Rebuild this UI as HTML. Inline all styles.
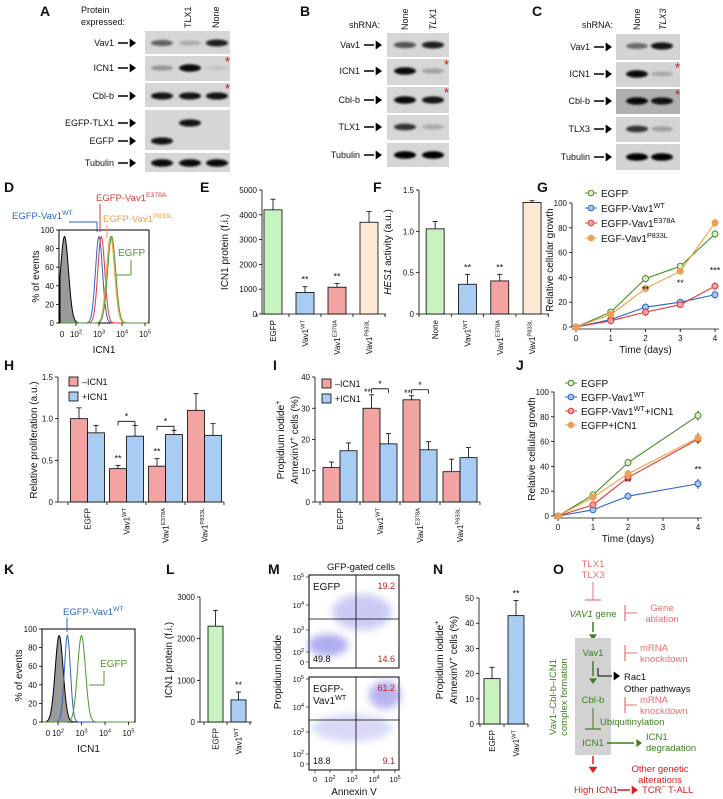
<!DOCTYPE html>
<html><head><meta charset="utf-8"><style>
html,body{margin:0;padding:0;background:#fff;}
svg{display:block;font-family:"Liberation Sans",Arial,sans-serif;}
</style></head><body>
<svg id="fig" width="723" height="799" viewBox="0 0 723 799" xmlns="http://www.w3.org/2000/svg">
<defs>
<filter id="blur1" x="-20%" y="-50%" width="140%" height="200%"><feGaussianBlur stdDeviation="1.1"/></filter>
<filter id="blur4" x="-50%" y="-50%" width="200%" height="200%"><feGaussianBlur stdDeviation="4"/></filter>
</defs>
</svg>
<script>
// ---------- DATA ----------
const eCats=['EGFP','Vav1^WT','Vav1^E378A','Vav1^P833L'];
const eVals=[4200,870,1080,3700];
const eErrs=[430,230,150,430];
const eStars=['','**','**',''];
const eTicks=[0,1000,2000,3000,4000,5000];
const fCats=['None','Vav1^WT','Vav1^E378A','Vav1^P833L'];
const fVals=[1.03,0.36,0.40,1.35];
const fErrs=[0.09,0.12,0.08,0.02];
const fStars=['','**','**',''];
const fTicks=[0,0.5,1.0,1.5];
const fTickLabels=['0','0.5','1.0','1.5'];
const gDays=[0,1,2,3,4];
const gEGFP=[0,12,39,49,75];
const gWT=[0,6,16,20,26];
const gE378A=[0,5,12,18,33];
const gP833L=[0,10,31,45,84];
const gErr=[1,2,3,2,3];
const gStarDays=[2,3,4];
const gStarVals=['**','**','***'];
const hCats=['EGFP','Vav1^WT','Vav1^E378A','Vav1^P833L'];
const hMinus=[1.0,0.40,0.43,1.10];
const hMinusErr=[0.13,0.04,0.09,0.20];
const hPlus=[0.83,0.79,0.81,0.80];
const hPlusErr=[0.09,0.13,0.05,0.14];
const iMinus=[11,30,32.7,9.7];
const iMinusErr=[1.8,4.3,1.3,4];
const iPlus=[16.4,18.6,16.7,14.2];
const iPlusErr=[2.5,3.3,2.6,3.2];
const iTicks=[0,10,20,30,40];
const jDays=[0,1,2,4];
const jEGFP=[0,17,43,81];
const jWT=[0,5,16,26];
const jWTICN1=[0,9,31,62];
const jEGFPICN1=[0,15,34,63];
const lVals=[2300,530];
const lErrs=[380,190];
const lTicks=[0,1000,2000,3000];
const nVals=[18,43];
const nErrs=[4.5,6];
const nTicks=[0,10,20,30,40,50];
const dPeaks=[1.5,3.0,3.1,3.5,3.55];
const kPeaks=[2.05,2.4,3.0];

// ---------- HELPERS ----------
const NS='http://www.w3.org/2000/svg';
const root=document.getElementById('fig');
function el(tag,attrs,name,parent){
  const e=document.createElementNS(NS,tag);
  for(const k in attrs) e.setAttribute(k,attrs[k]);
  
  
  (parent||root).appendChild(e);
  return e;
}
function txt(x,y,s,o,name){
  o=o||{};const fs=o.fs||9;
  const a={x:x,y:y,'font-size':fs,fill:o.fill||'#111','text-anchor':o.anchor||'start'};
  if(o.rot!=null) a.transform='rotate('+o.rot+' '+x+' '+y+')';
  if(o.bold) a['font-weight']='bold';
  if(o.italic) a['font-style']='italic';
  const e=el('text',a,name||'label');
  const parts=s.split('^');
  e.appendChild(document.createTextNode(parts[0]));
  if(parts[1]){
    const sp=parts[1].split('|');
    const ts=document.createElementNS(NS,'tspan');ts.setAttribute('font-size',fs*0.72);ts.setAttribute('dy',-fs*0.42);ts.textContent=sp[0];e.appendChild(ts);
    if(sp[1]){const t2=document.createElementNS(NS,'tspan');t2.setAttribute('dy',fs*0.42);t2.textContent=sp[1];e.appendChild(t2);}
  }
  return e;
}
function line(x1,y1,x2,y2,c,w,name){return el('line',{x1:x1,y1:y1,x2:x2,y2:y2,stroke:c||'#000','stroke-width':w||0.8},name||'line');}
function tri(x,y,dir,s,c,name){
  let p;
  if(dir==='r') p=[[x,y],[x-s*1.4,y-s],[x-s*1.4,y+s]];
  if(dir==='d') p=[[x,y],[x-s,y-s*1.4],[x+s,y-s*1.4]];
  return el('polygon',{points:p.map(q=>q.join(',')).join(' '),fill:c||'#000'},name||'arrowhead');
}
function letter(x,y,s){txt(x,y,s,{fs:14,bold:true},'panel-letter-'+s.toLowerCase());}

// ---------- BLOTS ----------
const blotA={lanes:[162,190,217],x0:145,x1:230,rows:[
 {label:'Vav1',y0:31,y1:54,by:43,bands:[0.55,0.2,0.85]},
 {label:'ICN1',y0:56,y1:81,by:68,bands:[0.3,0.95,0.08],star:true},
 {label:'Cbl-b',y0:83,y1:107,by:96,bands:[0.9,0.9,0.9],star:true},
 {label:'',y0:110,y1:150,by:123,bands:[0,0.9,0]},
 {label:'',y0:110,y1:150,by:141,bands:[0.9,0,0],noBox:true},
 {label:'Tubulin',y0:153,y1:172,by:163,bands:[0.95,0.95,0.95]}],bg:'#d6d6d6'};
const blotB={lanes:[405,433],x0:387,x1:449,rows:[
 {label:'Vav1',y0:33,y1:57,by:45,bands:[0.6,0.85]},
 {label:'ICN1',y0:59,y1:85,by:71,bands:[0.95,0.25],star:true},
 {label:'Cbl-b',y0:87,y1:113,by:100,bands:[0.95,0.9],star:true},
 {label:'TLX1',y0:115,y1:140,by:127,bands:[0.75,0.2]},
 {label:'Tubulin',y0:143,y1:167,by:155,bands:[1,1]}],bg:'#d6d6d6'};
const blotC={lanes:[637,662],x0:616,x1:680,rows:[
 {label:'Vav1',y0:34,y1:60,by:46,bands:[0.5,0.9]},
 {label:'ICN1',y0:62,y1:87,by:74,bands:[0.95,0.2],star:true},
 {label:'Cbl-b',y0:89,y1:114,by:101,bands:[0.95,0.9],star:true,bg:'#b0b0b0'},
 {label:'TLX3',y0:117,y1:142,by:129,bands:[0.75,0.25]},
 {label:'Tubulin',y0:144,y1:170,by:157,bands:[1,1]}],bg:'#d4d4d4'};
function drawBlot(b,key){
  b.rows.forEach((r,ri)=>{
    if(!r.noBox) el('rect',{x:b.x0,y:r.y0,width:b.x1-b.x0,height:r.y1-r.y0,fill:r.bg||b.bg},'blot-'+key+'-row');
    r.bands.forEach((v,i)=>{ if(v>0) el('ellipse',{cx:b.lanes[i],cy:r.by,rx:11,ry:2.2+v*1.6,fill:'#000',opacity:v,filter:'url(#blur1)'},'band');});
    if(r.star) txt(b.x1-5,r.y0+10,'*',{fs:13,fill:'#c01818'},'asterisk');
  });
}
drawBlot(blotA,'a');drawBlot(blotB,'b');drawBlot(blotC,'c');
function blotLabel(x,y,s){txt(x,y+3,s,{fs:9,anchor:'end'},'blot-label');line(x+4,y,x+14,y,'#000',1.5,'arrow-shaft');tri(x+22,y,'r',4.5,'#000','arrow');}
[['Vav1',43],['ICN1',68],['Cbl-b',96],['EGFP-TLX1',123],['EGFP',141],['Tubulin',163]].forEach(a=>blotLabel(114,a[1],a[0]));
[['Vav1',45],['ICN1',71],['Cbl-b',100],['TLX1',127],['Tubulin',155]].forEach(a=>blotLabel(360,a[1],a[0]));
[['Vav1',47],['ICN1',74],['Cbl-b',101],['TLX3',129],['Tubulin',157]].forEach(a=>blotLabel(590,a[1],a[0]));
letter(40,16,'A');letter(300,16,'B');letter(532,16,'C');
txt(81,13,'Protein',{fs:9},'header-label');txt(81,25,'expressed:',{fs:9},'header-label');
txt(191,28,'TLX1',{fs:9,rot:-90},'lane-header');txt(219,28,'None',{fs:9,rot:-90},'lane-header');
txt(380,28,'shRNA:',{fs:9,anchor:'end'},'header-label');
txt(408,30,'None',{fs:9,rot:-90},'lane-header');txt(436,30,'TLX1',{fs:9,rot:-90,italic:true},'lane-header');
txt(613,28,'shRNA:',{fs:9,anchor:'end'},'header-label');
txt(640,30,'None',{fs:9,rot:-90},'lane-header');txt(666,30,'TLX3',{fs:9,rot:-90,italic:true},'lane-header');

// ---------- AXIS HELPERS ----------
function yAxis(ax,y0,yTop,max,ticks,labels,xEnd){
  line(ax,y0,ax,yTop,'#000',0.8,'y-axis');
  ticks.forEach((t,i)=>{const y=y0-t/max*(y0-yTop);line(ax-3,y,ax,y,'#000',0.8,'y-tick');txt(ax-5,y+3,labels?labels[i]:String(t),{fs:8,anchor:'end'},'y-tick-label');});
  if(xEnd) line(ax,y0,xEnd,y0,'#000',0.8,'x-axis');
}
function bars(cfg){
  const sc=v=>cfg.y0-v/cfg.max*(cfg.y0-cfg.yTop);
  cfg.vals.forEach((v,i)=>{
    const cx=cfg.start+cfg.pitch*(i+0.5)+(cfg.off||0);
    const col=Array.isArray(cfg.color)?cfg.color[i]:cfg.color;
    line(cx,sc(v),cx,sc(v+cfg.errs[i]),'#000',0.8,'error-bar');
    line(cx-2.5,sc(v+cfg.errs[i]),cx+2.5,sc(v+cfg.errs[i]),'#000',0.8,'error-cap');
    el('rect',{x:cx-cfg.w/2,y:sc(v),width:cfg.w,height:cfg.y0-sc(v),fill:col,stroke:'#000','stroke-width':0.8},'bar-'+cfg.key+'-'+i);
    if(cfg.stars&&cfg.stars[i]) txt(cx,sc(v+cfg.errs[i])-4,cfg.stars[i],{fs:9,anchor:'middle'},'significance');
  });
}
function catLabels(cats,start,pitch,y0){
  cats.forEach((c,i)=>{const cx=start+pitch*(i+0.5);txt(cx+3,y0+6,c,{fs:8,rot:-90,anchor:'end'},'x-tick-label');line(start+pitch*i,y0,start+pitch*i,y0+3,'#000',0.8,'x-tick');});
  line(start+pitch*cats.length,y0,start+pitch*cats.length,y0+3,'#000',0.8,'x-tick');
}
const GREEN='#c8f3c0',BLUE='#a9cdf2',PINK='#f4a3a3',PEACH='#fde8d6';

// ---------- D / K histograms ----------
function hist(cfg){
  const pos=lv=>cfg.x2+(lv-2)*cfg.dec;
  el('rect',{x:cfg.x0,y:cfg.y0,width:cfg.x1-cfg.x0,height:cfg.y1-cfg.y0,fill:'none',stroke:'#000','stroke-width':1},'histogram-box');
  cfg.peaks.forEach((p,i)=>{
    const px=pos(p);let d='M'+(cfg.x0+1)+','+cfg.y1;
    for(let x=cfg.x0+1;x<=cfg.x1-1;x+=0.5){const g=Math.exp(-Math.pow((x-px)/cfg.sig[i],2)/2);d+=' L'+x+','+(cfg.y1-g*0.93*(cfg.y1-cfg.y0));}
    d+=' L'+(cfg.x1-1)+','+cfg.y1;
    el('path',{d:d,fill:i===0?'#9a9a9a':'none',stroke:cfg.cols[i],'stroke-width':1},'histogram-'+i);
  });
  [0,20,40,60,80,100].forEach(t=>{const y=cfg.y1-t/100*(cfg.y1-cfg.y0);line(cfg.x0-3,y,cfg.x0,y,'#000',0.8,'y-tick');txt(cfg.x0-5,y+3,String(t),{fs:8,anchor:'end'},'y-tick-label');});
  txt(cfg.zx,cfg.y1+14,'0',{fs:8,anchor:'middle'},'x-tick-label');
  [2,3,4,5].forEach(k=>{line(pos(k),cfg.y1,pos(k),cfg.y1+3,'#000',0.8,'x-tick');txt(pos(k),cfg.y1+14,'10^'+k,{fs:8,anchor:'middle'},'x-tick-label');});
  txt(cfg.x0-20,(cfg.y0+cfg.y1)/2,'% of events',{fs:10,rot:-90,anchor:'middle'},'y-axis-title');
  txt((cfg.x0+cfg.x1)/2,cfg.y1+30,'ICN1',{fs:10,anchor:'middle'},'x-axis-title');
}
letter(4,192,'D');
hist({x0:59,x1:149,y0:230,y1:323,x2:76,dec:23,zx:62,peaks:dPeaks,sig:[4,3.5,3.5,4,4],cols:['#000','#2d62c4','#e03a3a','#f0a040','#4a9a2a']});
txt(12,219,'EGFP-Vav1^WT',{fs:9.5,fill:'#2d62c4'},'legend-wt');line(69,222,97,222,'#2d62c4',1,'leader');line(97,222,97,232,'#2d62c4',1,'leader');
txt(96,201,'EGFP-Vav1^E378A',{fs:9.5,fill:'#e03a3a'},'legend-e378a');line(100,204,100,232,'#e03a3a',1,'leader');
txt(103,222,'EGFP-Vav1^P833L',{fs:9.5,fill:'#f0a040'},'legend-p833l');line(107,225,107,238,'#f0a040',1,'leader');
txt(118,256,'EGFP',{fs:10,fill:'#4a9a2a'},'legend-egfp');line(131,260,131,275,'#4a9a2a',1,'leader');line(131,275,116,275,'#4a9a2a',1,'leader');

letter(4,574,'K');
hist({x0:42,x1:135,y0:629,y1:722,x2:58,dec:23.5,zx:48,peaks:kPeaks,sig:[4,3,4],cols:['#000','#2d62c4','#4a9a2a']});
txt(63,615,'EGFP-Vav1^WT',{fs:9.5,fill:'#2d62c4'},'legend-wt');line(67,618,67,632,'#2d62c4',1,'leader');
txt(100,667,'EGFP',{fs:10,fill:'#4a9a2a'},'legend-egfp');line(104,671,104,685,'#4a9a2a',1,'leader');line(104,685,89,685,'#4a9a2a',1,'leader');

// ---------- E ----------
letter(200,192,'E');
yAxis(262,314,190,5000,eTicks,null,386);
bars({key:'e',vals:eVals,errs:eErrs,stars:eStars,color:[GREEN,BLUE,PINK,PEACH],start:257,pitch:32,w:18,y0:314,yTop:190,max:5000});
catLabels(eCats,257,32,314);
txt(228,252,'ICN1 protein (f.i.)',{fs:10,rot:-90,anchor:'middle'},'y-axis-title');
// ---------- F ----------
letter(373,192,'F');
yAxis(419,314,190,1.5,fTicks,fTickLabels,549);
bars({key:'f',vals:fVals,errs:fErrs,stars:fStars,color:[GREEN,BLUE,PINK,PEACH],start:419,pitch:32.3,w:18,y0:314,yTop:190,max:1.5});
catLabels(fCats,419,32.3,314);
(function(){const e=txt(391,252,'',{fs:10,rot:-90,anchor:'middle'},'y-axis-title');const a=document.createElementNS(NS,'tspan');a.setAttribute('font-style','italic');a.textContent='HES1';e.appendChild(a);e.appendChild(document.createTextNode(' activity (a.u.)'));})();

// ---------- line charts ----------
function lineChart(cfg){
  const sx=d=>cfg.x0+d*cfg.dx, sy=v=>cfg.y0-v/100*(cfg.y0-cfg.yTop);
  line(cfg.x0-4,cfg.y0,cfg.x0-4,cfg.yTop,'#000',0.8,'y-axis');
  [0,20,40,60,80,100].forEach(t=>{line(cfg.x0-7,sy(t),cfg.x0-4,sy(t),'#000',0.8,'y-tick');txt(cfg.x0-9,sy(t)+3,String(t),{fs:8,anchor:'end'},'y-tick-label');});
  line(cfg.x0-4,cfg.y0+2,cfg.x0+4*cfg.dx+4,cfg.y0+2,'#888',1.5,'x-axis');
  [0,1,2,3,4].forEach(d=>{line(sx(d),cfg.y0+2,sx(d),cfg.y0+5,'#000',0.8,'x-tick');txt(sx(d),cfg.y0+14,String(d),{fs:8,anchor:'middle'},'x-tick-label');});
  txt(sx(2),cfg.y0+26,'Time (days)',{fs:10,anchor:'middle'},'x-axis-title');
  txt(cfg.x0-23,(cfg.y0+cfg.yTop)/2-5,'Relative cellular growth',{fs:10,rot:-90,anchor:'middle'},'y-axis-title');
  cfg.series.forEach((s,si)=>{
    const pts=s.vals.map((v,i)=>[sx(cfg.days[i]),sy(v)]);
    el('polyline',{points:pts.map(p=>p.join(',')).join(' '),fill:'none',stroke:s.c,'stroke-width':1.1},'series-line-'+s.key);
    pts.forEach((p,i)=>{if(i>0){line(p[0],sy(s.vals[i]-cfg.err[i]),p[0],sy(s.vals[i]+cfg.err[i]),'#000',0.8,'error-bar');}
      el('circle',{cx:p[0],cy:p[1],r:3,fill:s.f,stroke:s.c,'stroke-width':1},'point-'+s.key);});
    txt(cfg.lx+16,cfg.ly+si*cfg.lstep+4,s.name,{fs:10},'legend-entry');
    line(cfg.lx,cfg.ly+si*cfg.lstep,cfg.lx+12,cfg.ly+si*cfg.lstep,s.c,1,'legend-line');
    el('circle',{cx:cfg.lx+6,cy:cfg.ly+si*cfg.lstep,r:2.8,fill:s.f,stroke:s.c,'stroke-width':1},'legend-marker');
  });
  cfg.stars.forEach((st,i)=>txt(sx(cfg.starDays[i]),sy(cfg.starY[i]),st,{fs:9,anchor:'middle'},'significance'));
}
letter(537,192,'G');
lineChart({x0:576,dx:34.75,y0:327,yTop:203,days:gDays,err:gErr,lx:585,ly:193,lstep:15,
 series:[{key:'egfp',name:'EGFP',vals:gEGFP,c:'#4a8c2a',f:'#d6f0c8'},{key:'wt',name:'EGFP-Vav1^WT',vals:gWT,c:'#2d62c4',f:'#a8c8f0'},
 {key:'e378a',name:'EGFP-Vav1^E378A',vals:gE378A,c:'#e03a3a',f:'#f4a0a0'},{key:'p833l',name:'EGF-Vav1^P833L',vals:gP833L,c:'#f0a040',f:'#e8a060'}],
 stars:gStarVals,starDays:gStarDays,starY:[28,33,43]});
letter(516,370,'J');
lineChart({x0:558,dx:35,y0:516,yTop:392,days:jDays,err:[1,2,3,4],lx:565,ly:383,lstep:14,
 series:[{key:'egfp',name:'EGFP',vals:jEGFP,c:'#4a8c2a',f:'#d6f0c8'},{key:'wt',name:'EGFP-Vav1^WT',vals:jWT,c:'#2d62c4',f:'#a8c8f0'},
 {key:'wt-icn1',name:'EGFP-Vav1^WT|+ICN1',vals:jWTICN1,c:'#e03a3a',f:'#f4a0a0'},{key:'egfp-icn1',name:'EGFP+ICN1',vals:jEGFPICN1,c:'#f0a040',f:'#e8a060'}],
 stars:['**','**'],starDays:[2,4],starY:[25,35]});

// ---------- H ----------
function pairChart(cfg){
  yAxis(cfg.ax,cfg.y0,cfg.yTop,cfg.max,cfg.ticks,cfg.labels,cfg.start+cfg.pitch*4);
  bars({key:cfg.key+'-minus',vals:cfg.minus,errs:cfg.minusErr,color:PINK,start:cfg.start,pitch:cfg.pitch,off:-cfg.w/2,w:cfg.w,y0:cfg.y0,yTop:cfg.yTop,max:cfg.max});
  bars({key:cfg.key+'-plus',vals:cfg.plus,errs:cfg.plusErr,color:BLUE,start:cfg.start,pitch:cfg.pitch,off:cfg.w/2,w:cfg.w,y0:cfg.y0,yTop:cfg.yTop,max:cfg.max});
  catLabels(hCats,cfg.start,cfg.pitch,cfg.y0);
  const sy=v=>cfg.y0-v/cfg.max*(cfg.y0-cfg.yTop);
  [1,2].forEach(i=>{const cx=cfg.start+cfg.pitch*(i+0.5);const top=Math.max(cfg.minus[i]+cfg.minusErr[i],cfg.plus[i]+cfg.plusErr[i]);
    const by=cfg.bracketAbove?sy(top)-6:sy(cfg.plus[i]+cfg.plusErr[i])-4;
    line(cx-cfg.w/2,by,cx+cfg.w/2,by,'#000',0.8,'bracket');line(cx-cfg.w/2,by,cx-cfg.w/2,by+4,'#000',0.8,'bracket');line(cx+cfg.w/2,by,cx+cfg.w/2,by+4,'#000',0.8,'bracket');
    txt(cx,by-2,'*',{fs:9,anchor:'middle'},'significance');
    txt(cx-cfg.w/2-(cfg.bracketAbove?4:0),cfg.bracketAbove?by+6:sy(cfg.minus[i]+cfg.minusErr[i])-4,'**',{fs:9,anchor:'middle'},'significance');});
  el('rect',{x:cfg.lx,y:cfg.ly-6,width:9,height:9,fill:PINK,stroke:'#000','stroke-width':0.8},'legend-minus-swatch');
  txt(cfg.lx+13,cfg.ly+2,'\u2013ICN1',{fs:9},'legend-minus');
  el('rect',{x:cfg.lx,y:cfg.ly+9,width:9,height:9,fill:BLUE,stroke:'#000','stroke-width':0.8},'legend-plus-swatch');
  txt(cfg.lx+13,cfg.ly+17,'+ICN1',{fs:9},'legend-plus');
}
letter(4,370,'H');
pairChart({key:'h',ax:58,y0:502,yTop:377,max:1.5,ticks:fTicks,labels:fTickLabels,start:68,pitch:39,w:17,
 minus:hMinus,minusErr:hMinusErr,plus:hPlus,plusErr:hPlusErr,lx:69,ly:383});
txt(37,440,'Relative proliferation (a.u.)',{fs:10,rot:-90,anchor:'middle'},'y-axis-title');
letter(273,370,'I');
pairChart({key:'i',ax:315,y0:502,yTop:377,max:40,ticks:iTicks,start:320,pitch:40,w:17,bracketAbove:true,
 minus:iMinus,minusErr:iMinusErr,plus:iPlus,plusErr:iPlusErr,lx:322,ly:385});
txt(284,440,'Propidium iodide^+',{fs:10,rot:-90,anchor:'middle'},'y-axis-title');
txt(298,440,'AnnexinV^+| cells (%)',{fs:10,rot:-90,anchor:'middle'},'y-axis-title');

// ---------- L ----------
letter(166,574,'L');
yAxis(200,722,597,3000,lTicks,null,252);
bars({key:'l',vals:lVals,errs:lErrs,stars:['','**'],color:[GREEN,BLUE],start:204,pitch:23,w:15,y0:722,yTop:597,max:3000});
catLabels(['EGFP','Vav1^WT'],204,23,722);
txt(172,660,'ICN1 protein (f.i.)',{fs:10,rot:-90,anchor:'middle'},'y-axis-title');
// ---------- N ----------
letter(433,574,'N');
yAxis(479,724,598,50,nTicks,null,528);
bars({key:'n',vals:nVals,errs:nErrs,stars:['','**'],color:[GREEN,BLUE],start:480,pitch:24,w:16,y0:724,yTop:598,max:50});
catLabels(['EGFP','Vav1^WT'],480,24,724);
txt(443,660,'Propidium iodide^+',{fs:10,rot:-90,anchor:'middle'},'y-axis-title');
txt(457,660,'AnnexinV^+| cells (%)',{fs:10,rot:-90,anchor:'middle'},'y-axis-title');

// ---------- M ----------
const mTopClusters=[[328,645,20,11,0.55],[362,612,30,18,0.35]];
const mBotClusters=[[385,695,16,14,0.5],[352,728,40,14,0.25]];
const mTopVals=['19.2','49.8','14.6'];
const mBotVals=['61.2','18.8','9.1'];
letter(268,574,'M');
txt(361,570,'GFP-gated cells',{fs:9.5,anchor:'middle'},'panel-title');
function dotPlot(y0,clusters,vals,hy,key){
  el('rect',{x:309,y:y0,width:90,height:93,fill:'#fff',stroke:'#000','stroke-width':1},'dot-plot-'+key);
  clusters.forEach(c=>el('ellipse',{cx:c[0],cy:c[1],rx:c[2],ry:c[3],fill:'#6a6ae0',opacity:c[4],filter:'url(#blur4)'},'cell-cluster'));
  line(356,y0,356,y0+93,'#000',0.8,'gate-vertical');line(309,hy,399,hy,'#000',0.8,'gate-horizontal');
  txt(395,y0+14,vals[0],{fs:9,anchor:'end',fill:'#c02020'},'quadrant-value');
  txt(313,y0+87,vals[1],{fs:9},'quadrant-value');
  txt(395,y0+87,vals[2],{fs:9,anchor:'end',fill:'#c02020'},'quadrant-value');
  [['10^5',2],['10^4',30],['10^3',55],['10^2',77],['0',87]].forEach(t=>{txt(304,y0+t[1]+3,t[0],{fs:7.5,anchor:'end'},'y-tick-label');line(306,y0+t[1],309,y0+t[1],'#000',0.6,'y-tick');});
}
dotPlot(575,mTopClusters,mTopVals,619,'top');
dotPlot(677,mBotClusters,mBotVals,720,'bottom');
el('rect',{x:311,y:579,width:36,height:14,fill:'#fff'},'label-bg');
txt(313,590,'EGFP',{fs:10},'dot-plot-label');
el('rect',{x:311,y:681,width:40,height:26,fill:'#fff'},'label-bg');
txt(313,692,'EGFP-',{fs:10},'dot-plot-label');txt(313,704,'Vav1^WT',{fs:10},'dot-plot-label');
[['0',315],['10^2',330],['10^3',352],['10^4',374],['10^5',395]].forEach(t=>{txt(t[1],782,t[0],{fs:7.5,anchor:'middle'},'x-tick-label');line(t[1],770,t[1],773,'#000',0.6,'x-tick');});
txt(354,795,'Annexin V',{fs:10,anchor:'middle'},'x-axis-title');
txt(281,672,'Propidium iodide',{fs:10,rot:-90,anchor:'middle'},'y-axis-title');

// ---------- O ----------
const LR='#e87070',GR='#3f7f1f',DR='#d42020';
letter(553,574,'O');
txt(593,567,'TLX1',{fs:9.5,anchor:'middle',fill:LR},'tlx1');txt(593,578,'TLX3',{fs:9.5,anchor:'middle',fill:LR},'tlx3');
line(593,582,593,600,LR,1,'inhibit');line(585,600,601,600,LR,1.2,'inhibit-bar');
(function(){const e=txt(593,617,'',{fs:9.5,anchor:'middle',fill:GR},'vav1-gene');const a=document.createElementNS(NS,'tspan');a.setAttribute('font-style','italic');a.textContent='VAV1';e.appendChild(a);e.appendChild(document.createTextNode(' gene'));})();
line(625,605,625,621,LR,1.2,'inhibit-bar');line(625,613,637,613,LR,1,'inhibit');
txt(662,611,'Gene',{fs:9.5,anchor:'middle',fill:LR},'gene-ablation');txt(662,622,'ablation',{fs:9.5,anchor:'middle',fill:LR},'gene-ablation');
line(593,622,593,632,GR,1.5,'arrow');tri(593,640,'d',4,GR,'arrowhead');
el('rect',{x:575,y:638,width:36,height:117,fill:'#d2d2d2'},'complex-box');
txt(593,656,'Vav1',{fs:9.5,anchor:'middle',fill:GR},'vav1');
line(625,645,625,661,LR,1.2,'inhibit-bar');line(625,653,637,653,LR,1,'inhibit');
txt(640,651,'mRNA',{fs:9.5,fill:LR},'mrna-knockdown');txt(640,662,'knockdown',{fs:9.5,fill:LR},'mrna-knockdown');
line(593,661,593,676,GR,1.5,'arrow');tri(593,684,'d',4,GR,'arrowhead');
line(598,668,598,676,'#000',1,'branch');line(598,676,612,676,'#000',1,'branch');tri(620,676,'r',4.5,'#000','arrowhead');
txt(624,680,'Rac1',{fs:9.5},'rac1');txt(624,692,'Other pathways',{fs:9.5},'other-pathways');
txt(593,703,'Cbl-b',{fs:9.5,anchor:'middle',fill:GR},'cbl-b');
line(625,697,625,713,LR,1.2,'inhibit-bar');line(625,705,637,705,LR,1,'inhibit');
txt(640,703,'mRNA',{fs:9.5,fill:LR},'mrna-knockdown');txt(640,714,'knockdown',{fs:9.5,fill:LR},'mrna-knockdown');
line(593,708,593,729,GR,1,'inhibit');line(585,729,601,729,GR,1.2,'inhibit-bar');
txt(600,725,'Ubiquitinylation',{fs:9.5,fill:GR},'ubiquitinylation');
txt(593,746,'ICN1',{fs:9.5,anchor:'middle',fill:GR},'icn1');
line(607,743,634,743,GR,1.5,'arrow');tri(642,743,'r',4,GR,'arrowhead');
txt(646,740,'ICN1',{fs:9.5,fill:GR},'icn1-degradation');txt(646,751,'degradation',{fs:9.5,fill:GR},'icn1-degradation');
txt(556,697,'Vav1\u2013Cbl-b\u2013ICN1',{fs:9.5,rot:-90,anchor:'middle',fill:GR},'complex-label');
txt(567,697,'complex formation',{fs:9.5,rot:-90,anchor:'middle',fill:GR},'complex-label');
line(593,756,593,764,DR,1.5,'arrow');tri(593,773,'d',4.5,DR,'arrowhead');
txt(660,772,'Other genetic',{fs:9.5,anchor:'middle',fill:DR},'other-alterations');txt(660,783,'alterations',{fs:9.5,anchor:'middle',fill:DR},'other-alterations');
txt(574,793,'High ICN1',{fs:9.5,fill:DR},'high-icn1');
line(617,790,630,790,DR,1.5,'arrow');tri(638,790,'r',4.5,DR,'arrowhead');
txt(642,793,'TCR^\u2212| T-ALL',{fs:9.5,fill:DR},'tcr-t-all');
</script>
</body></html>
